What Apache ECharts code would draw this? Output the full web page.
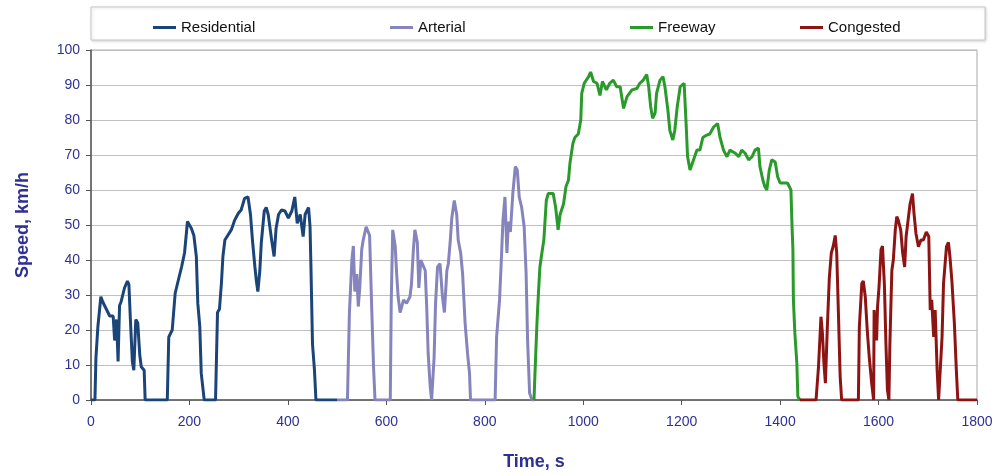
<!DOCTYPE html>
<html>
<head>
<meta charset="utf-8">
<script src="https://cdn.jsdelivr.net/npm/echarts@6/dist/echarts.min.js"></script>
<style>
html,body{margin:0;padding:0;background:#fff;}
#chart{width:1000px;height:476px;}
</style>
</head>
<body>
<div id="chart"></div>
<script>
// ---- data (time s, speed km/h) ----
const seriesNames = ['Residential', 'Arterial', 'Freeway', 'Congested'];
const xTicks = [0, 200, 400, 600, 800, 1000, 1200, 1400, 1600, 1800];

const residential = [[0,0],[8,0],[10,12],[14,21],[20,29.5],[24,28],[31,26],[38,24],[45,24],[48,17],[52,23],[55,11],[58,27],[61,28],[68,32],[74,34],[77,33],[80,23],[84,11],[87,8.5],[91,23],[95,22],[99,13],[102,9.5],[108,8.5],[110,0],[155,0],[158,18],[165,20],[171,30.5],[177,34],[184,38],[190,42],[196,51],[204,49],[209,47],[214,41],[217,27.6],[221,21],[224,7.6],[230,0],[253,0],[257,25],[261,26],[265,33.5],[268,41],[272,45.7],[276,46],[285,48.6],[292,51.4],[299,53.3],[305,54.3],[312,57.6],[319,58],[324,53],[328,45.7],[333,38],[336,34],[339,31],[343,37],[346,45],[352,54],[356,55],[360,53],[367,45.7],[372,41],[376,49],[381,53],[387,54.3],[394,54],[401,52],[408,54],[414,58],[419,50.5],[425,53],[431,46.7],[435,53],[442,55],[445,49.5],[447,37],[450,16],[454,8.5],[457,0],[500,0]];

const arterial = [[500,0],[521,0],[525,25],[530,40],[533,44],[536,31],[540,36],[543,26.7],[546,32],[550,43],[553,45.7],[559,49.5],[563,50],[566,47],[570,27.6],[574,9.5],[577,0],[608,0],[610,28.5],[613,48.6],[618,44],[621,36],[624,29.5],[628,25],[635,28.6],[641,27.6],[648,29.5],[651,33],[655,43],[658,48.6],[663,45],[666,32],[670,40],[674,40],[679,37],[682,26.7],[685,13.3],[689,4],[692,0],[697,12],[700,27.6],[704,38],[709,39],[714,29.5],[718,25],[723,37],[726,39],[730,45.7],[733,52],[738,57],[743,53],[746,45.7],[751,42],[755,36],[760,22],[765,13.3],[769,7.6],[771,0],[821,0],[824,18],[830,28.6],[833,38],[837,51.4],[841,58],[845,42],[848,51],[852,48],[857,59],[862,66.7],[866,65.7],[870,58],[875,55],[880,49.5],[884,36],[887,17],[891,2],[896,0],[900,0]];

const freeway = [[900,0],[902,7.6],[906,22],[909,30.5],[912,38],[916,42],[920,45.7],[925,57],[929,59],[939,59],[944,55],[949,48.6],[953,53],[960,56],[965,61],[970,62.8],[973,67.6],[979,73.3],[983,75],[990,76],[995,80],[997,87.6],[1002,90.5],[1011,92.4],[1015,93.7],[1021,91],[1028,90.5],[1034,87],[1039,91],[1047,88.6],[1054,90.5],[1061,91.4],[1068,89.5],[1075,89.5],[1082,83.3],[1089,86.7],[1099,88.6],[1109,89],[1115,90.5],[1122,91.4],[1129,93],[1133,89.5],[1137,83.8],[1141,80.5],[1146,82],[1149,87.6],[1156,91.4],[1162,92.4],[1166,89.5],[1172,82.8],[1176,77],[1182,74.3],[1186,77],[1191,83.8],[1197,89.5],[1205,90.5],[1209,79],[1212,69.5],[1217,65.7],[1224,68.6],[1231,71.4],[1237,71.4],[1243,75],[1251,75.7],[1257,76],[1265,78],[1273,79],[1278,75],[1285,71.4],[1292,69.5],[1298,71.4],[1309,70.5],[1316,69.5],[1322,71.4],[1329,70.5],[1336,68.6],[1343,69.5],[1349,71.4],[1356,72],[1359,66.7],[1365,62.8],[1369,61],[1373,60],[1378,65.7],[1383,68.6],[1390,68],[1395,63.8],[1400,62],[1407,62],[1415,62],[1422,60],[1424,50.5],[1426,43],[1427,28.6],[1430,19],[1434,10.5],[1436,1],[1440,0]];

const congested = [[1440,0],[1473,0],[1478,9.5],[1483,23.8],[1486,19],[1489,10.5],[1492,4.8],[1496,21],[1500,35],[1504,42],[1508,44],[1512,47],[1515,42],[1519,22],[1522,6.7],[1525,0],[1559,0],[1561,21],[1566,33.3],[1569,34],[1573,29.5],[1577,20],[1581,12.4],[1586,4.8],[1590,0],[1591,25.7],[1596,17],[1598,26.7],[1601,32.4],[1605,43],[1608,44],[1612,32.4],[1615,16],[1618,3],[1621,0],[1623,16],[1627,37],[1630,40],[1634,48.6],[1637,52.4],[1640,51.4],[1645,48.6],[1649,42],[1653,38],[1656,46.7],[1660,51.4],[1664,56],[1669,59],[1672,53.3],[1676,47.6],[1681,43.8],[1686,45.7],[1691,45.7],[1697,48],[1702,46.7],[1705,25.7],[1708,28.6],[1712,18],[1715,25.7],[1719,8.6],[1722,0],[1725,0],[1729,18],[1732,33.3],[1738,43.8],[1742,45],[1745,41],[1749,34],[1754,22],[1758,8.6],[1761,0],[1800,0]];

const colors = ['#1B4478', '#8584BC', '#2A9A2A', '#8E1414'];
const seriesData = [residential, arterial, freeway, congested];
const legendLeft = [148, 385, 625, 795];

const axisColor = '#2E3192';
const font = '"Liberation Sans", Arial, sans-serif';

const chart = echarts.init(document.getElementById('chart'), null, {renderer: 'canvas'});
chart.setOption({
  animation: false,
  backgroundColor: '#fff',
  graphic: [{
    type: 'rect',
    shape: {x: 91, y: 7, width: 894, height: 33},
    style: {fill: '#fff', stroke: '#c8c8c8', lineWidth: 1, shadowBlur: 3, shadowColor: 'rgba(0,0,0,0.15)', shadowOffsetX: 1, shadowOffsetY: 1},
    z: -1
  }],
  legend: seriesNames.map((n, i) => ({
    data: [n],
    left: legendLeft[i],
    top: 15,
    icon: 'rect',
    itemWidth: 23,
    itemHeight: 3,
    itemGap: 5,
    textStyle: {fontFamily: font, fontSize: 15, color: '#111'}
  })),
  grid: {
    left: 91, right: 23, top: 50, bottom: 76,
    show: true, borderColor: '#a8a8a8', borderWidth: 1, backgroundColor: '#fff'
  },
  xAxis: {
    type: 'value', min: 0, max: 1800, interval: 200,
    name: 'Time, s', nameLocation: 'middle', nameGap: 53,
    nameTextStyle: {fontFamily: font, fontSize: 18, fontWeight: 'bold', color: axisColor},
    axisLine: {show: true, lineStyle: {color: '#555', width: 1.5}},
    axisTick: {show: true, length: 5, lineStyle: {color: '#555'}},
    axisLabel: {margin: 15, fontFamily: font, fontSize: 14, color: axisColor,
      formatter: v => xTicks.includes(v) ? String(v) : ''},
    splitLine: {show: false}
  },
  yAxis: {
    type: 'value', min: 0, max: 100, interval: 10,
    name: 'Speed, km/h', nameLocation: 'middle', nameGap: 59, nameRotate: 90,
    nameTextStyle: {fontFamily: font, fontSize: 18, fontWeight: 'bold', color: axisColor},
    axisLine: {show: true, lineStyle: {color: '#555', width: 1.5}},
    axisTick: {show: true, length: 5, lineStyle: {color: '#555'}},
    axisLabel: {margin: 11, fontFamily: font, fontSize: 14, color: axisColor},
    splitLine: {show: true, lineStyle: {color: '#c0c0c0', width: 1}}
  },
  series: seriesNames.map((n, i) => ({
    name: n,
    type: 'line',
    data: seriesData[i],
    showSymbol: false,
    symbol: 'none',
    color: colors[i],
    lineStyle: {color: colors[i], width: 3},
    z: 3
  }))
});
</script>
</body>
</html>
